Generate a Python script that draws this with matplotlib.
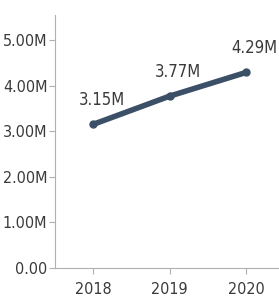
import matplotlib.pyplot as plt

plt.rcParams['font.family'] = ['Liberation Sans Narrow', 'DejaVu Sans']
plt.rcParams['font.stretch'] = 'condensed'

years = [2018, 2019, 2020]
values = [3.15, 3.77, 4.29]
labels = ['3.15M', '3.77M', '4.29M']
yticks = [0, 1, 2, 3, 4, 5]
ytick_labels = ['0.00', '1.00M', '2.00M', '3.00M', '4.00M', '5.00M']

fig = plt.figure(figsize=(2.79, 3.0), dpi=100)
ax = fig.add_axes([0.197, 0.107, 0.803, 0.843])

ax.plot(years, values, color='#3b5066', linewidth=4, marker='o', markersize=5,
        solid_capstyle='round')
for x, y, t in zip(years, values, labels):
    ax.annotate(t, (x, y), xytext=(6, 11), textcoords='offset points',
                ha='center', va='bottom', fontsize=12, color='#3a3a3a')

ax.set_xlim(2017.5, 2020.43)
ax.set_ylim(0, 5.55)
ax.set_xticks(years)
ax.set_xticklabels([str(y) for y in years])
ax.set_yticks(yticks)
ax.set_yticklabels(ytick_labels)

for s in ['top', 'right']:
    ax.spines[s].set_visible(False)
for s in ['left', 'bottom']:
    ax.spines[s].set_color('#b0b0b0')
ax.tick_params(colors='#b0b0b0', labelcolor='#3a3a3a', labelsize=11.5, length=4)
ax.tick_params(axis='y', pad=1.5)
ax.tick_params(axis='x', pad=6)

fig.savefig('out.png', dpi=100)
